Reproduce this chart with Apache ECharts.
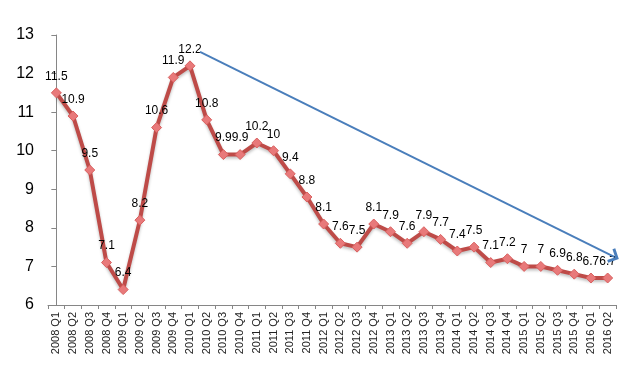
<!DOCTYPE html>
<html>
<head>
<meta charset="utf-8">
<script src="https://cdn.jsdelivr.net/npm/echarts@6/dist/echarts.min.js"></script>
<style>html,body{margin:0;padding:0;background:#fff}#c{width:640px;height:380px}</style>
</head>
<body>
<div id="c"></div>
<script>
const categories = ['2008 Q1','2008 Q2','2008 Q3','2008 Q4','2009 Q1','2009 Q2','2009 Q3','2009 Q4',
  '2010 Q1','2010 Q2','2010 Q3','2010 Q4','2011 Q1','2011 Q2','2011 Q3','2011 Q4',
  '2012 Q1','2012 Q2','2012 Q3','2012 Q4','2013 Q1','2013 Q2','2013 Q3','2013 Q4',
  '2014 Q1','2014 Q2','2014 Q3','2014 Q4','2015 Q1','2015 Q2','2015 Q3','2015 Q4',
  '2016 Q1','2016 Q2'];
const growth = [11.5,10.9,9.5,7.1,6.4,8.2,10.6,11.9,12.2,10.8,9.9,9.9,10.2,10,9.4,8.8,
  8.1,7.6,7.5,8.1,7.9,7.6,7.9,7.7,7.4,7.5,7.1,7.2,7,7,6.9,6.8,6.7,6.7];
const yTicks = [6,7,8,9,10,11,12,13];
// trend arrow in (category position, value) space
const trendStart = [8.6, 12.56];
const trendEnd = [33.4, 7.25];

const chart = echarts.init(document.getElementById('c'), null, {renderer:'canvas'});
chart.setOption({
  animation: false,
  grid: {left: 48, right: 24, top: 35, bottom: 75},
  xAxis: [{
    type: 'category',
    data: categories,
    boundaryGap: true,
    axisLine: {lineStyle: {color: '#868686'}},
    axisTick: {show: true, length: 4, lineStyle: {color: '#868686'}},
    axisLabel: {rotate: 90, color: '#222', fontFamily: 'Liberation Sans', fontSize: 11, margin: 7, interval: 0}
  }, {
    type: 'value',
    min: -0.5, max: categories.length - 0.5,
    show: false
  }],
  yAxis: {
    type: 'value',
    min: yTicks[0], max: yTicks[yTicks.length-1], interval: 1,
    splitLine: {show: false},
    axisLine: {show: true, lineStyle: {color: '#868686'}},
    axisTick: {show: true, length: 5, lineStyle: {color: '#868686'}},
    axisLabel: {color: '#000', fontFamily: 'Liberation Sans', fontSize: 16, margin: 14}
  },
  series: [{
    type: 'line',
    data: growth,
    symbol: 'diamond',
    symbolSize: 10,
    z: 3,
    lineStyle: {color: '#be4b48', width: 4, shadowColor: 'rgba(0,0,0,0.25)', shadowBlur: 3, shadowOffsetY: 2},
    itemStyle: {color: '#e8797a', borderColor: '#d9605f', borderWidth: 1},
    label: {show: true, position: 'top', distance: 5, color: '#000', fontFamily: 'Liberation Sans', fontSize: 12}
  }, {
    type: 'line',
    xAxisIndex: 1,
    data: [],
    z: 2,
    markLine: {
      silent: true,
      symbol: ['none', 'path://M0,0 L10,10 L7.4,12.6 L0,5.2 L-7.4,12.6 L-10,10 Z'],
      symbolSize: [16, 10],
      label: {show: false},
      lineStyle: {color: '#4a7ebb', width: 2, type: 'solid'},
      data: [[{coord: trendStart}, {coord: trendEnd}]]
    }
  }]
});
</script>
</body>
</html>
